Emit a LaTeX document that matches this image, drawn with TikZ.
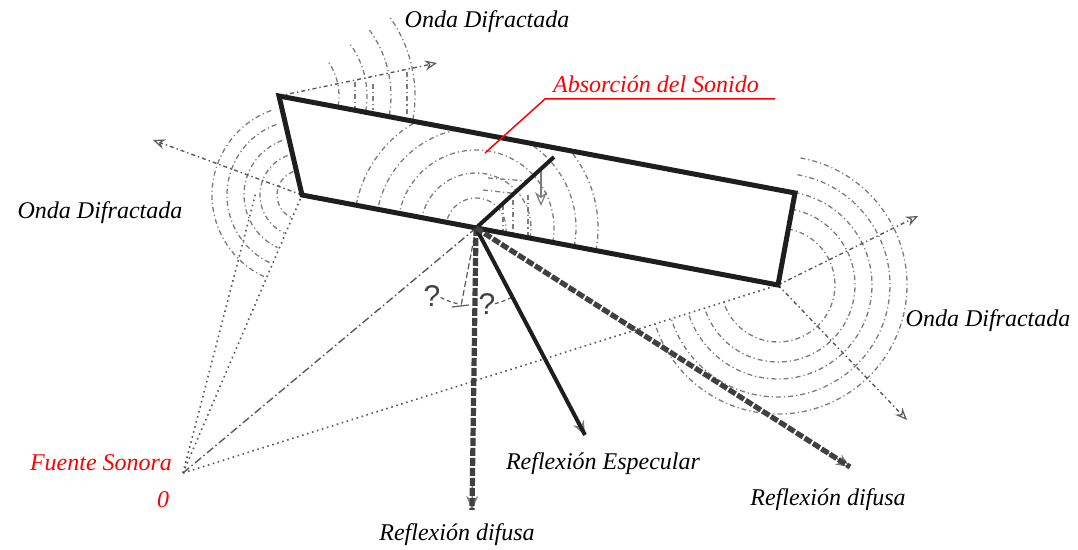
\documentclass[tikz,border=0pt]{standalone}
\usepackage{fontspec}
\setmainfont{Liberation Serif}
\newfontfamily\lblfont{Liberation Serif}
\newfontfamily\qfont{Liberation Sans}
\usetikzlibrary{arrows.meta,calc}
\definecolor{ink}{HTML}{1E1E1E}
\definecolor{wavegray}{HTML}{7C7C7C}
\definecolor{raygray}{HTML}{5A5A5A}
\definecolor{labelred}{HTML}{FF0000}

\begin{document}
\begin{tikzpicture}[x=0.5pt,y=-0.5pt,
  lbl/.style={font=\lblfont\itshape\fontsize{12}{14}\selectfont, inner sep=0pt},
  qmark/.style={font=\qfont\fontsize{15}{17}\selectfont, text=ink!85, inner sep=0pt},
  panel/.style={draw=ink, line width=2.5pt, line join=miter},
  wave/.style={draw=wavegray, line width=0.65pt, dash pattern=on 2.5pt off 1.5pt on 0.6pt off 1.5pt},
  ray/.style={draw=raygray, line width=0.8pt, dash pattern=on 0.8pt off 1.8pt},
  incident/.style={draw=raygray, line width=0.7pt, dash pattern=on 4pt off 1.5pt on 0.8pt off 1.5pt},
  diffray/.style={draw=raygray, line width=0.7pt, dash pattern=on 2pt off 1.5pt on 0.7pt off 1.5pt,
                  -{Stealth[open,length=6pt,width=5pt,line width=0.6pt]}},
  tip/.style={draw=wavegray, line width=0.6pt, -{Stealth[open,length=7pt,width=6pt]}},
  diffuse/.style={draw=ink!85, line width=2.6pt, dash pattern=on 4pt off 1pt},
  specular/.style={draw=ink, line width=2pt},
  leader/.style={draw=labelred, line width=0.75pt},
]
\useasboundingbox (0,0) rectangle (1078,550);

% panel corners, impact point and source
\coordinate (A) at (279,96);
\coordinate (B) at (795,193);
\coordinate (C) at (778,285);
\coordinate (D) at (302,195);
\coordinate (P) at (476,228);
\coordinate (Q) at (554,157);
\coordinate (O) at (183,473);
\coordinate (N) at (461,306);

% ends of rays
\coordinate (Atop) at (437,63);
\coordinate (Dleft) at (153,140);
\coordinate (Cup) at (918,216);
\coordinate (Cdown) at (907,420);
\coordinate (Oaux) at (256,192);
\coordinate (Rd1) at (472,510);
\coordinate (Rs) at (585,435);
\coordinate (Rd2) at (850,467);

% wave fronts around the edges
\foreach \r in {60,88,112,136}
  \draw[wave] (A) ++(10:\r) arc[start angle=10, end angle=-36, radius=\r];
\foreach \x/\ya/\yb in {355/82/108, 373/84/110, 407/72/116}
  \draw[wave] (\x,\ya) -- (\x,\yb);
\foreach \r in {25,42,58,75,90}
  \draw[wave] (D) ++(-110:\r) arc[start angle=-110, end angle=-245, radius=\r];
\foreach \r in {57,77,94,112,129}
  \draw[wave] (C) ++(-80:\r) arc[start angle=-80, end angle=162.5, radius=\r];

% wave fronts on the panel face
\begin{scope}
  \clip (A) -- (B) -- (C) -- (D) -- cycle;
  \foreach \r in {30,55,78,100,122}
    \draw[wave] (P) ++(10.8:\r) arc[start angle=10.8, end angle=-169.2, radius=\r];
  \foreach \x/\ya/\yb in {503/205/232, 513/200/234, 528/195/237}
    \draw[wave] (\x,\ya) -- (\x,\yb);
  \draw[wave] (488,178) -- (528,181);
  \draw[wave] (483,190) -- (520,194);
\end{scope}
\draw[tip] (541,168) -- (541,206);

% diffracted rays
\draw[diffray] (A) -- (Atop);
\draw[diffray] (D) -- (Dleft);
\draw[diffray] (C) -- (Cup);
\draw[diffray] (C) -- (Cdown);

% rays from the source
\draw[ray] (O) -- (D);
\draw[ray] (O) -- (Oaux);
\draw[ray] (O) -- (C);
\draw[incident] (O) -- (P);

% normal and angles
\draw[draw=raygray, line width=0.6pt, dash pattern=on 3pt off 1.5pt] (P) -- (N);
\draw[draw=raygray, line width=0.6pt] (452,307) -- (469,305);
\draw[draw=raygray, line width=0.6pt, dash pattern=on 2pt off 1.5pt]
  (P) ++(-243:78) arc[start angle=-243, end angle=-257, radius=78];
\draw[draw=raygray, line width=0.6pt, dash pattern=on 2pt off 1.5pt]
  (P) ++(-284:78) arc[start angle=-284, end angle=-297, radius=78];
\node[qmark] (q1) at (432,296) {?};
\node[qmark] (q2) at (487,304) {?};

% panel
\draw[panel] (A) -- (B) -- (C) -- (D) -- cycle;
\draw[line width=2pt, draw=ink] (P) -- (Q);

% reflected rays
\draw[tip] ($(P)!0.9!(Rd1)$) -- (Rd1);
\draw[diffuse] (P) -- (Rd1);
\draw[tip] ($(P)!0.9!(Rs)$) -- (Rs);
\draw[specular] (P) -- (Rs);
\draw[tip] ($(P)!0.93!(Rd2)$) -- (Rd2);
\draw[diffuse] (P) -- (Rd2);

% labels
\node[lbl] (ondaTop) at (487,22) {Onda Difractada};
\node[lbl] (ondaLeft) at (100,213) {Onda Difractada};
\node[lbl] (ondaRight) at (988,321) {Onda Difractada};
\node[lbl, text=labelred] (absor) at (656,84) {Absorción del Sonido};
\coordinate (absorL) at (545,99);
\coordinate (absorR) at (775,99);
\coordinate (absorP) at (485,153);
\draw[leader] (absorP) -- (absorL) -- (absorR);
\node[lbl, text=labelred] (fuente) at (101,463) {Fuente Sonora};
\node[lbl, text=labelred] (cero) at (163,500) {0};
\node[lbl] (espec) at (603,464) {Reflexión Especular};
\node[lbl] (difA) at (457,535) {Reflexión difusa};
\node[lbl] (difB) at (828,500) {Reflexión difusa};
\end{tikzpicture}
\end{document}
